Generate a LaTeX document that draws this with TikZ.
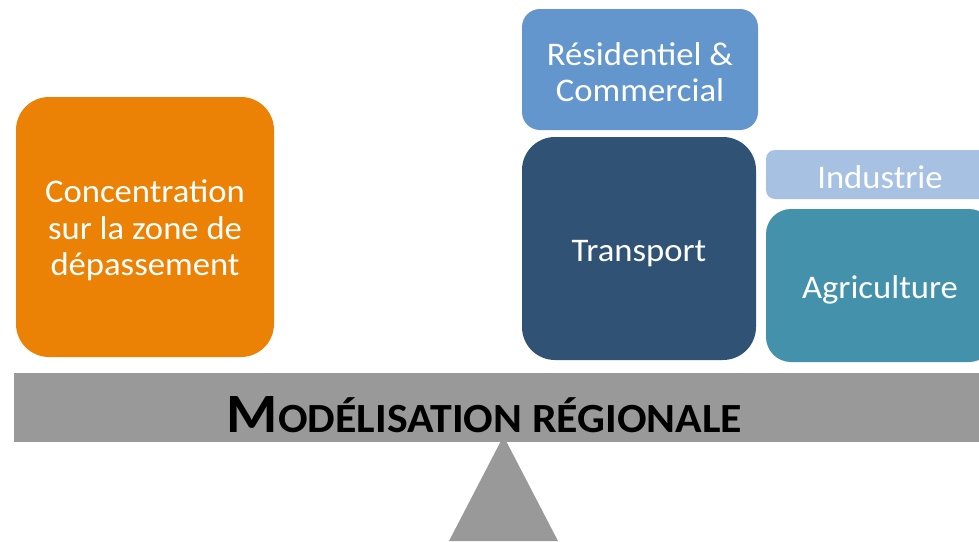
\documentclass[tikz,border=0pt]{standalone}
\usepackage{fontspec}
\setmainfont{Carlito}[FakeStretch=1.05]
\newfontfamily\titlefont{Carlito}[FakeStretch=1.056]
\definecolor{orangeC}{RGB}{235,129,5}
\definecolor{resC}{RGB}{99,150,204}
\definecolor{transC}{RGB}{47,82,117}
\definecolor{indC}{RGB}{166,193,226}
\definecolor{agriC}{RGB}{67,145,170}
\definecolor{barC}{RGB}{153,153,153}
\begin{document}
\begin{tikzpicture}[x=1pt,y=-1pt,
  box/.style={rectangle, draw=none, inner sep=0pt},
  lbl/.style={text=white, align=center, inner sep=0pt,
    font=\fontsize{33}{36.5}\selectfont},
]
\useasboundingbox (0,0) rectangle (979,541);
\clip (0,0) rectangle (979,541);
\node[box, fill=orangeC, minimum width=258pt, minimum height=260pt, rounded corners=33pt] (conc) at (145,227) {};
\node[lbl] (conc-t) at ([yshift=-3.5pt]conc.center) {Concentration\\sur la zone de\\dépassement};
\node[box, fill=resC, minimum width=236pt, minimum height=121pt, rounded corners=18pt] (res) at (640,69.5) {};
\node[lbl] (res-t) at ([yshift=-2.5pt]res.center) {Résidentiel \&\\Commercial};
\node[box, fill=transC, minimum width=234pt, minimum height=223pt, rounded corners=33pt] (trans) at (639,248.5) {};
\node[lbl] (trans-t) at ([yshift=-5pt]trans.center) {Transport};
\node[box, fill=indC, minimum width=228pt, minimum height=49pt, rounded corners=9pt] (ind) at (880,174.5) {};
\node[lbl] (ind-t) at ([yshift=-2.5pt]ind.center) {Industrie};
\node[box, fill=agriC, minimum width=228pt, minimum height=153pt, rounded corners=25pt] (agri) at (880,285.5) {};
\node[lbl] (agri-t) at ([yshift=-4pt]agri.center) {Agriculture};
\fill[barC] (503.5,436) -- (449,541) -- (558,541) -- cycle;
\node[box, fill=barC, minimum width=975pt, minimum height=69pt] (bar) at (501.5,407.5) {};
\node[anchor=base, inner sep=0pt, font=\titlefont\bfseries] (title) at (484.5,432.3)
  {\fontsize{55.5}{55.5}\selectfont M\fontsize{41.5}{41.5}\selectfont ODÉLISATION RÉGIONALE};
\end{tikzpicture}
\end{document}
